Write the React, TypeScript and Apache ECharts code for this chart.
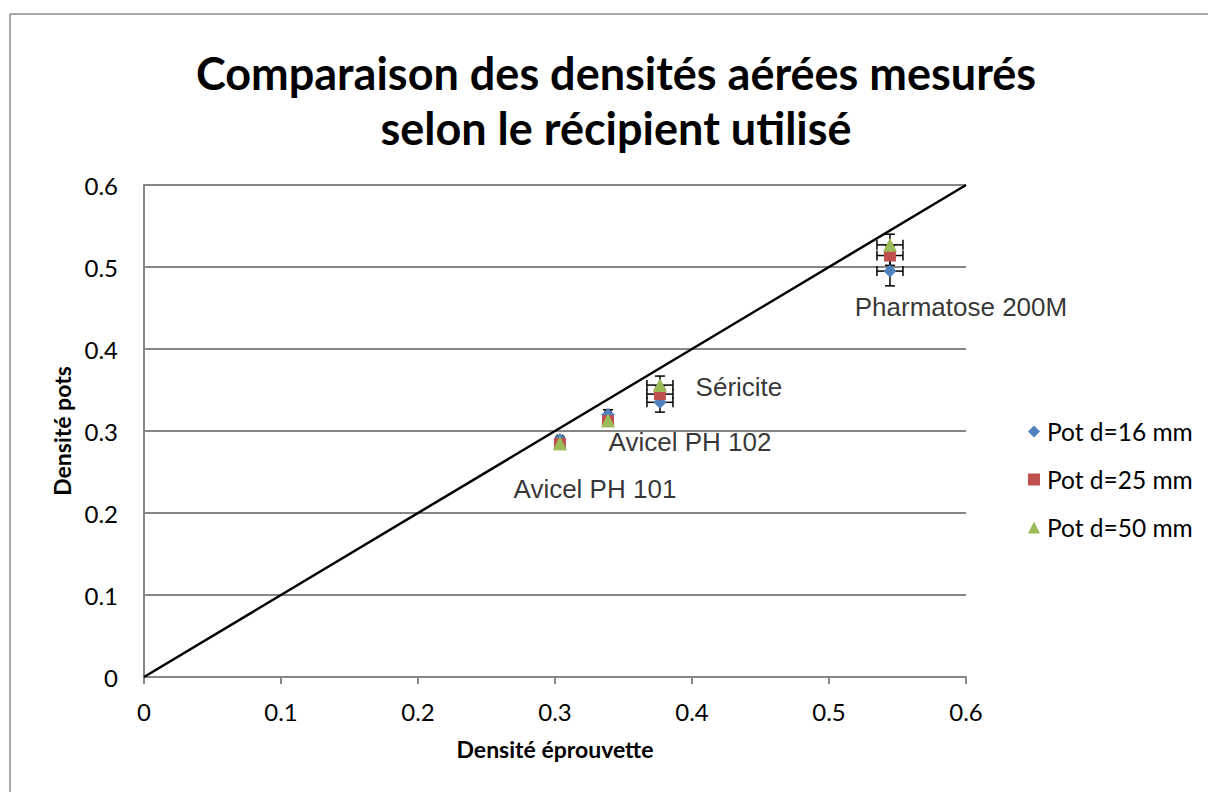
import React, { useEffect, useRef } from "react";
import * as echarts from "echarts";

const titleText = "Comparaison des densités aérées mesurés\nselon le récipient utilisé";
const xAxisName = "Densité éprouvette";
const yAxisName = "Densité pots";
const seriesNames = ["Pot d=16 mm", "Pot d=25 mm", "Pot d=50 mm"];
const seriesColors = ["#4F81BD", "#C0504D", "#9BBB59"];
const seriesSymbols = ["diamond", "rect", "triangle"];
const materials = ["Avicel PH 101", "Avicel PH 102", "Séricite", "Pharmatose 200M"];
const xValues = [0.3036, 0.3387, 0.3766, 0.5445];
const xErrors = [0.002, 0.002, 0.0095, 0.0095];
const pot16 = [0.2895, 0.32, 0.335, 0.495];
const pot25 = [0.284, 0.312, 0.345, 0.514];
const pot50 = [0.285, 0.313, 0.356, 0.527];
const pot16Err = [0.003, 0.006, 0.012, 0.018];
const pot25Err = [0.003, 0.004, 0.010, 0.012];
const pot50Err = [0.003, 0.004, 0.011, 0.013];
const labelOffsets: [number, number][] = [[35, 49], [82, 27], [79, -15], [71, 36]];
const identityLine = [[0, 0], [0.6, 0.6]];

const App: React.FC = () => {
  const ref = useRef<HTMLDivElement>(null);
  useEffect(() => {
    if (!ref.current) return;
    const chart = echarts.init(ref.current, undefined, { renderer: "svg" });
    const ys = [pot16, pot25, pot50];
    const errs = [pot16Err, pot25Err, pot50Err];

    const errorSeries = ys.map((yv, si) => ({
      type: "custom",
      name: seriesNames[si] + " err",
      z: 2,
      silent: true,
      data: xValues.map((x, i) => [x, yv[i], xErrors[i], errs[si][i]]),
      renderItem: (params: any, api: any) => {
        const x = api.value(0);
        const y = api.value(1);
        const xe = api.value(2);
        const ye = api.value(3);
        const top = api.coord([x, y + ye]);
        const bot = api.coord([x, y - ye]);
        const left = api.coord([x - xe, y]);
        const right = api.coord([x + xe, y]);
        const c = 5;
        const st = { stroke: "#000", lineWidth: 1.5 };
        return {
          type: "group",
          children: [
            { type: "line", shape: { x1: top[0], y1: top[1], x2: bot[0], y2: bot[1] }, style: st },
            { type: "line", shape: { x1: top[0] - c, y1: top[1], x2: top[0] + c, y2: top[1] }, style: st },
            { type: "line", shape: { x1: bot[0] - c, y1: bot[1], x2: bot[0] + c, y2: bot[1] }, style: st },
            { type: "line", shape: { x1: left[0], y1: left[1], x2: right[0], y2: right[1] }, style: st },
            { type: "line", shape: { x1: left[0], y1: left[1] - c, x2: left[0], y2: left[1] + c }, style: st },
            { type: "line", shape: { x1: right[0], y1: right[1] - c, x2: right[0], y2: right[1] + c }, style: st },
          ],
        };
      },
    }));

    const scatterSeries = ys.map((yv, si) => ({
      type: "scatter",
      name: seriesNames[si],
      z: 3,
      symbol: seriesSymbols[si],
      symbolSize: si === 0 ? 13 : si === 1 ? 12 : 14,
      itemStyle: { color: seriesColors[si], opacity: 1 },
      data: xValues.map((x, i) => [x, yv[i]]),
    }));

    chart.setOption({
      animation: false,
      backgroundColor: "#fff",
      graphic: [
        {
          type: "line",
          shape: { x1: 10, y1: 14, x2: 1210, y2: 14 },
          style: { stroke: "#8a8a8a", lineWidth: 1.5 },
          silent: true,
        },
        {
          type: "line",
          shape: { x1: 10, y1: 14, x2: 10, y2: 800 },
          style: { stroke: "#8a8a8a", lineWidth: 1.5 },
          silent: true,
        },
        {
          type: "text",
          x: 616,
          y: 45,
          silent: true,
          style: {
            text: titleText,
            textAlign: "center",
            textVerticalAlign: "top",
            fontFamily: "Lato",
            fontWeight: "bold",
            fontSize: 45,
            lineHeight: 55,
            fill: "#000",
          },
        },
      ],
      legend: {
        orient: "vertical",
        left: 1023,
        top: 414,
        itemGap: 23,
        itemWidth: 12,
        itemHeight: 12,
        data: seriesNames.map((n, i) => ({ name: n, icon: seriesSymbols[i] })),
        textStyle: { fontFamily: "Lato", fontSize: 24.5, color: "#000", padding: [0, 0, 0, 2] },
      },
      grid: { left: 144, right: 242, top: 185, bottom: 115, containLabel: false },
      xAxis: {
        type: "value",
        min: 0,
        max: 0.6,
        interval: 0.1,
        name: xAxisName,
        nameLocation: "middle",
        nameGap: 60,
        nameTextStyle: { fontFamily: "Lato", fontWeight: "bold", fontSize: 23, color: "#000" },
        axisLine: { show: true, lineStyle: { color: "#868686", width: 2 } },
        axisTick: { show: true, length: 7, lineStyle: { color: "#868686", width: 2 } },
        axisLabel: {
          margin: 22,
          fontFamily: "Lato",
          fontSize: 24,
          color: "#000",
          formatter: (v: number) => String(+v.toFixed(1)),
        },
        splitLine: { show: false },
      },
      yAxis: {
        type: "value",
        min: 0,
        max: 0.6,
        interval: 0.1,
        name: yAxisName,
        nameLocation: "middle",
        nameGap: 70,
        nameRotate: 90,
        nameTextStyle: { fontFamily: "Lato", fontWeight: "bold", fontSize: 23, color: "#000" },
        axisLine: { show: true, lineStyle: { color: "#868686", width: 2 } },
        axisTick: { show: false },
        axisLabel: {
          margin: 26,
          fontFamily: "Lato",
          fontSize: 24,
          color: "#000",
          formatter: (v: number) => String(+v.toFixed(1)),
        },
        splitLine: { show: true, lineStyle: { color: "#868686", width: 2 } },
      },
      series: [
        {
          type: "line",
          name: "identity",
          data: identityLine,
          symbol: "none",
          z: 4,
          lineStyle: { color: "#000", width: 2.5 },
          silent: true,
        },
        ...errorSeries,
        ...scatterSeries,
        {
          type: "scatter",
          name: "labels",
          symbolSize: 0,
          z: 5,
          silent: true,
          data: materials.map((m, i) => ({
            value: [xValues[i], pot16[i]],
            name: m,
            label: {
              show: true,
              position: "inside",
              offset: labelOffsets[i],
              formatter: m,
              fontFamily: "Liberation Sans",
              fontSize: 26,
              color: "#000",
            },
          })),
        },
      ],
    });
    return () => chart.dispose();
  }, []);
  return (
    <div
      ref={ref}
      style={{ position: "absolute", left: 0, top: 0, width: 1208, height: 792 }}
    />
  );
};

export default App;
